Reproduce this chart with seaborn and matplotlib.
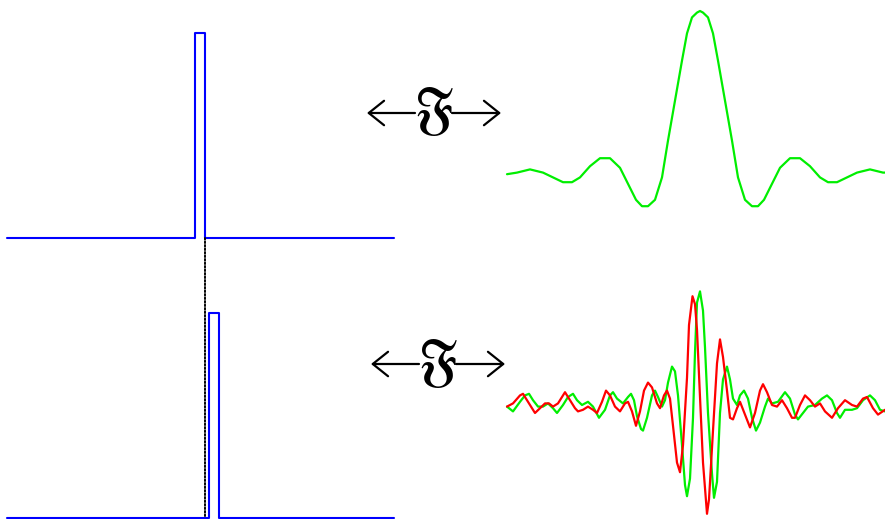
import matplotlib
matplotlib.use("Agg")
import matplotlib.pyplot as plt
from matplotlib.patches import ConnectionPatch
import pandas as pd
import seaborn as sns

sns.set_style("white")
plt.rcParams["mathtext.fontset"] = "stix"

# Time domain: a unit rectangular pulse, then the same pulse delayed
pulse_t = [-19.3, -0.5, -0.5, 0.5, 0.5, 19.4]
pulse_a = [0, 0, 1, 1, 0, 0]
shifted_t = [-19.3, 0.93, 0.93, 1.93, 1.93, 19.4]
shifted_a = [0, 0, 1, 1, 0, 0]
delay_mark_t = 0.5

# Frequency domain of the centred pulse (real, sinc-like)
freq_top = [-3.86, -3.66, -3.40, -3.14, -2.94, -2.74, -2.56, -2.40, -2.20, -2.00,
            -1.80, -1.60, -1.44, -1.28, -1.16, -1.04, -0.90, -0.76, -0.64, -0.50,
            -0.36, -0.26, -0.16, -0.06, 0.00,
            0.06, 0.16, 0.26, 0.36, 0.50, 0.64, 0.76, 0.90, 1.04, 1.16,
            1.28, 1.44, 1.60, 1.80, 2.00, 2.20, 2.40, 2.56, 2.74, 2.94,
            3.14, 3.40, 3.66, 3.70]
spec_top = [-0.02, -0.01, 0.01, -0.01, -0.04, -0.07, -0.07, -0.04, 0.03, 0.08,
            0.08, 0.02, -0.08, -0.18, -0.22, -0.22, -0.18, -0.04, 0.19, 0.44,
            0.69, 0.86, 0.96, 0.99, 1.00,
            0.99, 0.96, 0.86, 0.69, 0.44, 0.19, -0.04, -0.18, -0.22, -0.22,
            -0.18, -0.08, 0.02, 0.08, 0.08, 0.03, -0.04, -0.07, -0.07, -0.04,
            -0.01, 0.01, -0.01, -0.01]

# Frequency domain of the delayed pulse: real part
freq_re = [-3.86, -3.74, -3.60, -3.50, -3.42, -3.34, -3.24, -3.14, -3.04, -2.94,
           -2.86, -2.74, -2.64, -2.54, -2.46, -2.36, -2.24, -2.14, -2.02, -1.90,
           -1.80, -1.74, -1.66, -1.54, -1.44, -1.38, -1.32, -1.26, -1.18, -1.14,
           -1.06, -0.96, -0.90, -0.84, -0.76, -0.70, -0.64, -0.56, -0.50, -0.44,
           -0.36, -0.30, -0.26, -0.20, -0.14, -0.10, -0.06, 0.00, 0.06, 0.10,
           0.16, 0.24, 0.28, 0.34, 0.40, 0.46, 0.54, 0.60, 0.66, 0.74,
           0.80, 0.88, 0.96, 1.04, 1.12, 1.20, 1.30, 1.36, 1.44, 1.56,
           1.70, 1.80, 1.90, 1.96, 2.06, 2.16, 2.30, 2.44, 2.54, 2.64,
           2.74, 2.80, 2.90, 3.04, 3.14, 3.26, 3.40, 3.50, 3.60, 3.70]
spec_re = [-0.01, -0.04, 0.02, 0.06, 0.07, 0.03, -0.01, -0.01, 0.01, -0.02,
           -0.05, 0.00, 0.05, 0.07, 0.03, 0.00, 0.02, -0.01, -0.08, -0.03,
           0.06, 0.08, 0.04, 0.01, 0.05, 0.07, 0.03, -0.07, -0.15, -0.16,
           -0.08, 0.06, 0.09, 0.05, -0.01, 0.03, 0.14, 0.24, 0.21, 0.06,
           -0.25, -0.50, -0.57, -0.46, -0.08, 0.33, 0.64, 0.71, 0.59, 0.36,
           -0.05, -0.43, -0.58, -0.48, -0.05, 0.16, 0.24, 0.16, 0.04, 0.00,
           0.06, 0.09, 0.04, -0.08, -0.16, -0.11, -0.01, 0.04, 0.01, 0.02,
           0.08, 0.04, -0.06, -0.09, -0.05, -0.01, 0.00, 0.04, 0.06, 0.03,
           -0.05, -0.08, -0.03, -0.03, -0.02, 0.03, 0.06, 0.03, -0.03, -0.04]

# Frequency domain of the delayed pulse: imaginary part
freq_im = [-3.86, -3.74, -3.60, -3.54, -3.46, -3.36, -3.30, -3.20, -3.10, -3.02,
           -2.94, -2.84, -2.74, -2.70, -2.60, -2.50, -2.44, -2.34, -2.24, -2.14,
           -2.06, -1.96, -1.88, -1.80, -1.70, -1.60, -1.50, -1.44, -1.36, -1.28,
           -1.20, -1.12, -1.04, -0.96, -0.86, -0.80, -0.72, -0.66, -0.60, -0.54,
           -0.46, -0.40, -0.34, -0.26, -0.22, -0.15, -0.10, -0.06, 0.00, 0.06,
           0.14, 0.18, 0.26, 0.34, 0.40, 0.46, 0.54, 0.60, 0.66, 0.74,
           0.80, 0.90, 1.00, 1.10, 1.20, 1.26, 1.34, 1.44, 1.54, 1.64,
           1.74, 1.84, 1.90, 2.00, 2.10, 2.20, 2.30, 2.40, 2.50, 2.64,
           2.76, 2.90, 3.04, 3.14, 3.26, 3.34, 3.46, 3.56, 3.70]
spec_im = [-0.01, 0.01, 0.06, 0.07, 0.03, -0.02, -0.05, -0.02, 0.01, 0.01,
           -0.01, 0.01, 0.06, 0.08, 0.03, -0.02, -0.04, -0.03, -0.01, -0.03,
           -0.05, 0.02, 0.09, 0.06, -0.01, -0.04, 0.01, 0.02, -0.04, -0.13,
           -0.04, 0.09, 0.14, 0.11, 0.01, -0.02, 0.06, 0.09, 0.04, -0.13,
           -0.36, -0.42, -0.25, 0.17, 0.50, 0.68, 0.63, 0.47, 0.05, -0.36,
           -0.68, -0.59, -0.16, 0.26, 0.41, 0.30, 0.09, -0.08, -0.09, -0.02,
           0.02, -0.06, -0.14, -0.05, 0.09, 0.13, 0.08, 0.00, -0.01, 0.03,
           -0.02, -0.08, -0.08, 0.00, 0.06, 0.03, -0.01, 0.01, -0.04, -0.08,
           -0.02, 0.03, 0.00, -0.01, 0.04, 0.05, -0.02, -0.06, -0.03]

W, H = 885, 519
BLUE, GREEN, RED = "#0000ff", "#00ee00", "#ff0000"

fig = plt.figure(figsize=(W / 100, H / 100), dpi=100)


def panel(x0, y0, x1, y1):
    ax = fig.add_axes([x0 / W, 1 - y1 / H, (x1 - x0) / W, (y1 - y0) / H])
    ax.set_axis_off()
    return ax


def trace(ax, x, y, color, lw):
    df = pd.DataFrame({"x": x, "y": y})
    sns.lineplot(data=df, x="x", y="y", ax=ax, sort=False, estimator=None,
                 color=color, linewidth=lw, clip_on=False,
                 solid_joinstyle="round", solid_capstyle="round")


ax_tl = panel(0, 0, 400, 259)
ax_bl = panel(0, 259, 400, 519)
ax_tr = panel(500, 0, 885, 230)
ax_br = panel(500, 270, 885, 519)

trace(ax_tl, pulse_t, pulse_a, BLUE, 1.5)
ax_tl.set_xlim(-20, 20)
ax_tl.set_ylim(-21 / 205.5, 238 / 205.5)

trace(ax_bl, shifted_t, shifted_a, BLUE, 1.5)
ax_bl.set_xlim(-20, 20)
ax_bl.set_ylim(-1 / 205.5, 259 / 205.5)

trace(ax_tr, freq_top, spec_top, GREEN, 1.6)
ax_tr.set_xlim(-4, 3.7)
ax_tr.set_ylim(-59 / 160, 171 / 160)

trace(ax_br, freq_re, spec_re, GREEN, 1.6)
trace(ax_br, freq_im, spec_im, RED, 1.6)
ax_br.set_xlim(-4, 3.7)
ax_br.set_ylim(-114 / 160, 135 / 160)

# dotted guide from the original pulse edge down to the delayed baseline
guide = ConnectionPatch(xyA=(delay_mark_t, 0), coordsA=ax_tl.transData,
                        xyB=(delay_mark_t, 0), coordsB=ax_bl.transData,
                        color="black", linewidth=1.4, linestyle=(0, (0.8, 1.0)))
fig.add_artist(guide)

# Fourier-transform pair symbols between the columns (overlay in pixels)
overlay = fig.add_axes([0, 0, 1, 1])
overlay.set_axis_off()
overlay.set_xlim(0, W)
overlay.set_ylim(H, 0)
overlay.patch.set_alpha(0)

arrow_kw = dict(arrowstyle="->,head_length=1.0,head_width=0.8",
                color="black", lw=1.6, shrinkA=0, shrinkB=0,
                mutation_scale=11)


def fourier_pair(xc, yc):
    overlay.annotate("", xy=(xc - 67, yc), xytext=(xc - 19, yc), arrowprops=arrow_kw)
    overlay.annotate("", xy=(xc + 67, yc), xytext=(xc + 18, yc), arrowprops=arrow_kw)
    overlay.text(xc, yc - 1, r"$\mathfrak{F}$", ha="center", va="center",
                 fontsize=38, color="black")


fourier_pair(434, 113)
fourier_pair(438, 364)

fig.savefig("out.png", dpi=100)
